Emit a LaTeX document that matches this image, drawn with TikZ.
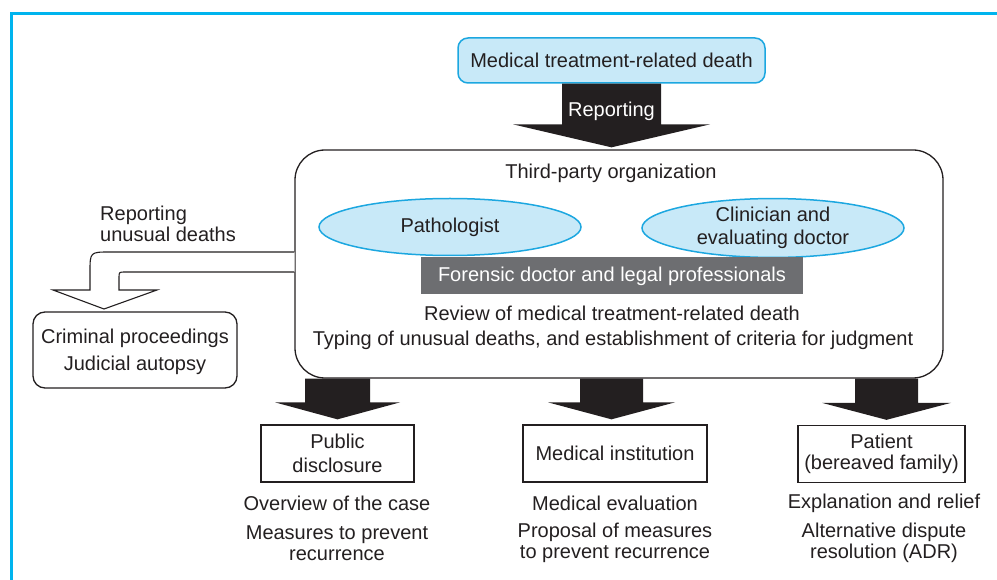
\documentclass[tikz,border=0pt]{standalone}
\usepackage{fontspec}
\setmainfont{Liberation Sans}
\usetikzlibrary{calc,shapes.geometric}
\definecolor{frameblue}{HTML}{00B4EE}
\definecolor{lightblue}{HTML}{C8E9F8}
\definecolor{edgeblue}{HTML}{1CA7E0}
\definecolor{forgray}{HTML}{6D6E71}
\definecolor{ink}{HTML}{231F20}
\newcommand\blockarrow[5]{%
  \fill[ink] ($(#1)+(-#3,0)$) -- ($(#1)+(#3,0)$) -- ($(#2)+(#3,-#5)$) -- ($(#2)+(#4,-#5)$) -- (#2)
    -- ($(#2)+(-#4,-#5)$) -- ($(#2)+(-#3,-#5)$) -- cycle;}
\begin{document}
\begin{tikzpicture}[x=1pt,y=-1pt,
  font=\fontsize{20}{21}\selectfont, text=ink,
  txt/.style={inner sep=0pt, align=center},
  bluebox/.style={draw=edgeblue, fill=lightblue, line width=1.5pt, rounded corners=10pt,
    minimum width=307pt, minimum height=45pt, inner sep=0pt},
  blueell/.style={ellipse, draw=edgeblue, fill=lightblue, line width=1.5pt,
    minimum width=262pt, minimum height=57pt, inner sep=0pt, align=center,
    font=\fontsize{20}{23}\selectfont},
  orgbox/.style={draw=ink, line width=1.3pt, rounded corners=30pt,
    minimum width=648pt, minimum height=228pt, inner sep=0pt},
  outbox/.style={draw=ink, line width=1.3pt, minimum height=57pt, inner sep=0pt, align=center},
  crimbox/.style={draw=ink, line width=1.3pt, rounded corners=12pt,
    minimum width=204pt, minimum height=76pt, inner sep=0pt, align=center},
  hollow/.style={draw=ink, line width=1.1pt, fill=white, line join=miter}
]
\useasboundingbox (0,0) rectangle (997,580);
% frame
\draw[frameblue, line width=3pt] (11.5,581) -- (11.5,13.5) -- (998,13.5);

% top
\node[bluebox] (mtrd) at (611.5,60.5) {Medical treatment-related death};
\node[orgbox] (org) at (619,264) {};

% reporting arrow
\coordinate (a0s) at (mtrd.south);
\coordinate (a0t) at ($(mtrd.south |- org.north)+(0,-2)$);
\blockarrow{a0s}{a0t}{49.5}{98.5}{23}
\node[txt, text=white] (rep) at ($(mtrd.south)+(0,28)$) {Reporting};

% inside organization
\node[txt] (tpo) at (611,173) {Third-party organization};
\node[blueell] (patho) at (450,227) {Pathologist};
\node[blueell] (clin) at (773,228) {Clinician and\\evaluating doctor};
\node[fill=forgray, text=white, minimum width=382pt, minimum height=37pt, inner sep=0pt] (foren) at (612,276) {Forensic doctor and legal professionals};
\node[txt] (rev) at (612,313) {Review of medical treatment-related death};
\node[txt] (typ) at (613,340) {Typing of unusual deaths, and establishment of criteria for judgment};

% left branch
\node[txt, align=left, anchor=west] (rud) at (100,224) {Reporting\\unusual deaths};
\node[crimbox, font=\fontsize{20}{27}\selectfont, text depth=0pt] (crim) at (135,350) {Criminal proceedings\\Judicial autopsy};
\coordinate (h1) at (org.west |- 0,252);
\coordinate (h2) at (org.west |- 0,272);
\coordinate (htip) at (104,309);
\fill[white] (h1) -- (110,252) .. controls (90,252) .. (90,272) -- (90,290) -- (53,290) -- (htip)
  -- (157,290) -- (119,290) -- (119,278) .. controls (119,272) .. (125,272) -- (h2) -- cycle;
\draw[hollow] (h1) -- (110,252) .. controls (90,252) .. (90,272) -- (90,290) -- (53,290) -- (htip)
  -- (157,290) -- (119,290) -- (119,278) .. controls (119,272) .. (125,272) -- (h2);

% bottom boxes
\node[outbox, minimum width=153pt, font=\fontsize{20}{24}\selectfont] (pub) at (337.5,453.5) {Public\\disclosure};
\node[outbox, minimum width=184pt] (med) at (615,453.5) {Medical institution};
\node[outbox, minimum width=167pt, font=\fontsize{20}{20.5}\selectfont] (pat) at (881.5,454) {Patient\\(bereaved family)};

% bottom arrows
\coordinate (b1s) at (pub.north |- org.south);
\coordinate (b1t) at ($(pub.north)+(0,-5)$);
\blockarrow{b1s}{b1t}{32.5}{62.5}{17}
\coordinate (b2s) at ($(med.north |- org.south)+(-3.5,0)$);
\coordinate (b2t) at ($(med.north)+(-3.5,-5)$);
\blockarrow{b2s}{b2t}{31.5}{63.5}{17}
\coordinate (b3s) at ($(pat.north |- org.south)+(5,0)$);
\coordinate (b3t) at ($(pat.north)+(5,-5)$);
\blockarrow{b3s}{b3t}{31.5}{64.5}{17}

% bottom texts
\node[txt] (pub1) at (337,503) {Overview of the case};
\node[txt, font=\fontsize{20}{20.5}\selectfont] (pub2) at (337,543) {Measures to prevent\\recurrence};
\node[txt] (med1) at (615,503) {Medical evaluation};
\node[txt, font=\fontsize{20}{20.5}\selectfont] (med2) at (615,543) {Proposal of measures\\to prevent recurrence};
\node[txt] (pat1) at (884,503) {Explanation and relief};
\node[txt, font=\fontsize{20}{20.5}\selectfont] (pat2) at (884,543) {Alternative dispute\\resolution (ADR)};
\end{tikzpicture}
\end{document}
